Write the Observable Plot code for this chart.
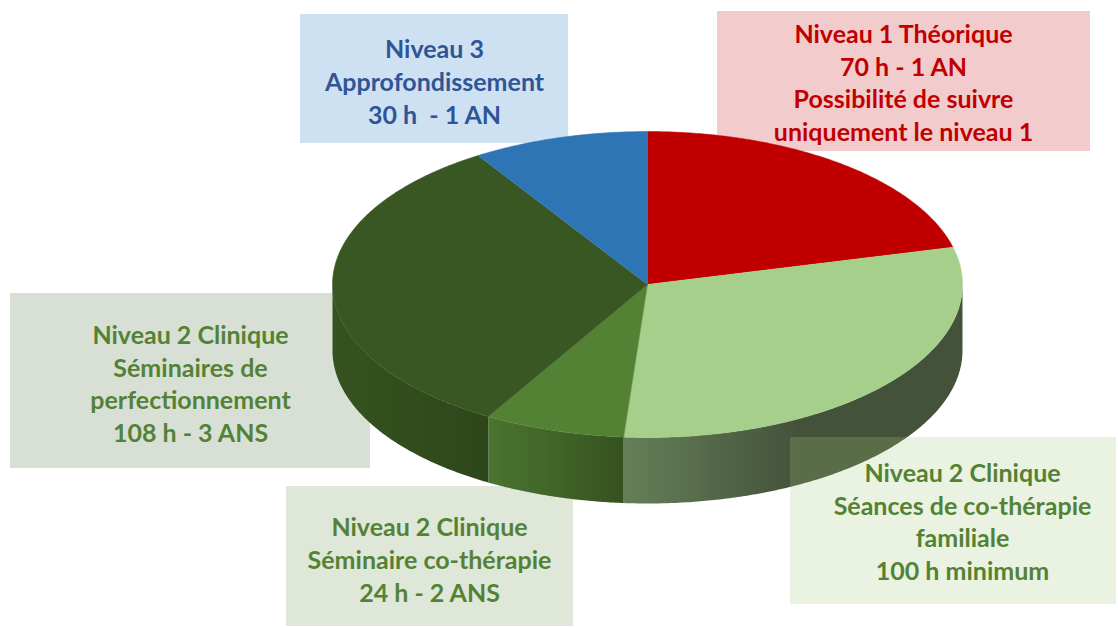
<!DOCTYPE html>
<html>
<head>
<meta charset="utf-8">
<script src="https://cdn.jsdelivr.net/npm/d3@7"></script>
<script src="https://cdn.jsdelivr.net/npm/@observablehq/plot@0.6"></script>
<style>
  body { margin: 0; background: #ffffff; }
  svg text { white-space: pre; }
</style>
</head>
<body>
<div id="chart"></div>
<script>
// ---- data ----
const categories = [
  "Niveau 1 Théorique",
  "Niveau 2 Séances de co-thérapie familiale",
  "Niveau 2 Séminaire co-thérapie",
  "Niveau 2 Séminaires de perfectionnement",
  "Niveau 3 Approfondissement"
];
const hours = [70, 100, 24, 108, 30];
const topColors = ["#c00000", "#a6cf8c", "#548235", "#385723", "#2e75b6"];
const sideLight = ["#8a0000", "#647f58", "#4a7530", "#35532000", "#1f5283"];
const sideDark  = ["#6a0000", "#44523a", "#36521f", "#2d471a", "#1a4570"];
const sideRamp  = [1, 0.52, 1, 1, 1];

const labelTexts = [
  "Niveau 1 Théorique\n70 h - 1 AN\nPossibilité de suivre\nuniquement le niveau 1",
  "Niveau 2 Clinique\nSéances de co-thérapie\nfamiliale\n100 h minimum",
  "Niveau 2 Clinique\nSéminaire co-thérapie\n24 h - 2 ANS",
  "Niveau 2 Clinique\nSéminaires de\nperfectionnement\n108 h - 3 ANS",
  "Niveau 3\nApprofondissement\n30 h  - 1 AN"
];
const labelColors = ["#c00000", "#548235", "#548235", "#548235", "#2f5597"];
const boxFills = ["#f2cbcc", "#a6c57e", "#dfe7d9", "#d8e0d5", "#cee1f2"];

// ---- layout (pixels) ----
const W = 1118, H = 627;
const CX = 647, CY = 284, RX = 315, RY = 153, DEPTH = 66;
const boxes = [            // [x1, y1, x2, y2]
  [717, 11, 1090, 151],
  [790, 437, 1116, 604],
  [286, 486, 573, 626],
  [10, 293, 370, 468],
  [300, 14, 568, 143]
];
const boxOnTop = [false, true, false, false, false];
const textCentre = [[903, 81], [962, 520], [429, 558], [190, 382], [434, 80]];

// ---- geometry from data ----
const arcs = d3.pie().sort(null).value(d => d)(hours);
const px = a => CX + RX * Math.sin(a);
const py = a => CY - RY * Math.cos(a);
const STEP = Math.PI / 360;

const topPts = [];
arcs.forEach((arc, i) => {
  topPts.push({id: i, x: CX, y: CY, color: topColors[i]});
  const n = Math.max(2, Math.ceil((arc.endAngle - arc.startAngle) / STEP));
  for (let k = 0; k <= n; k++) {
    const a = arc.startAngle + (arc.endAngle - arc.startAngle) * k / n;
    topPts.push({id: i, x: px(a), y: py(a), color: topColors[i]});
  }
});

// one side wall per slice (front half only), filled by a horizontal gradient
const sides = [];
arcs.forEach((arc, i) => {
  const a0 = Math.max(arc.startAngle, Math.PI / 2);
  const a1 = Math.min(arc.endAngle, 3 * Math.PI / 2);
  if (a1 <= a0) return;
  const n = Math.max(2, Math.ceil((a1 - a0) / STEP));
  const pts = [];
  for (let k = 0; k <= n; k++) {
    const a = a0 + (a1 - a0) * k / n;
    pts.push({x: px(a), y: py(a)});
  }
  for (let k = n; k >= 0; k--) {
    const a = a0 + (a1 - a0) * k / n;
    pts.push({x: px(a), y: py(a) + DEPTH});
  }
  sides.push({i, pts});
});

const boxData = boxes.map((b, i) => ({
  x1: b[0], y1: b[1], x2: b[2], y2: b[3],
  fill: boxFills[i], top: boxOnTop[i],
  text: labelTexts[i], color: labelColors[i],
  cx: textCentre[i][0], cy: textCentre[i][1]
}));

const chart = Plot.plot({
  width: W,
  height: H,
  margin: 0,
  x: {domain: [0, W], range: [0, W], axis: null},
  y: {domain: [0, H], range: [0, H], axis: null},
  color: {type: "identity"},
  style: {background: "#ffffff"},
  marks: [
    Plot.rect(boxData.filter(d => !d.top), {x1: "x1", x2: "x2", y1: "y1", y2: "y2", fill: "fill"}),
    ...sides.map(s => Plot.line(s.pts, {x: "x", y: "y", fill: `url(#side${s.i})`, stroke: "none", curve: "linear"})),
    Plot.line(topPts, {x: "x", y: "y", z: "id", fill: "color", stroke: "color", strokeWidth: 0.5, curve: "linear"}),
    Plot.rect(boxData.filter(d => d.top), {x1: "x1", x2: "x2", y1: "y1", y2: "y2", fill: "fill", fillOpacity: 0.23}),
    Plot.text(boxData, {
      x: "cx", y: "cy", text: "text", fill: "color",
      fontSize: 25, fontWeight: "bold", fontFamily: "Lato, 'Open Sans', sans-serif",
      lineHeight: 1.31, textAnchor: "middle", lineAnchor: "middle"
    })
  ]
});

// gradient definitions for the side walls
const svg = d3.select(chart.tagName.toLowerCase() === "svg" ? chart : chart.querySelector("svg"));
const defs = svg.insert("defs", ":first-child");
sides.forEach(s => {
  const g = defs.append("linearGradient").attr("id", `side${s.i}`)
    .attr("x1", 0).attr("x2", 1).attr("y1", 0).attr("y2", 0);
  g.append("stop").attr("offset", 0).attr("stop-color", sideLight[s.i].slice(0, 7));
  g.append("stop").attr("offset", sideRamp[s.i]).attr("stop-color", sideDark[s.i]);
  g.append("stop").attr("offset", 1).attr("stop-color", sideDark[s.i]);
});
document.getElementById("chart").appendChild(chart);
</script>
</body>
</html>
